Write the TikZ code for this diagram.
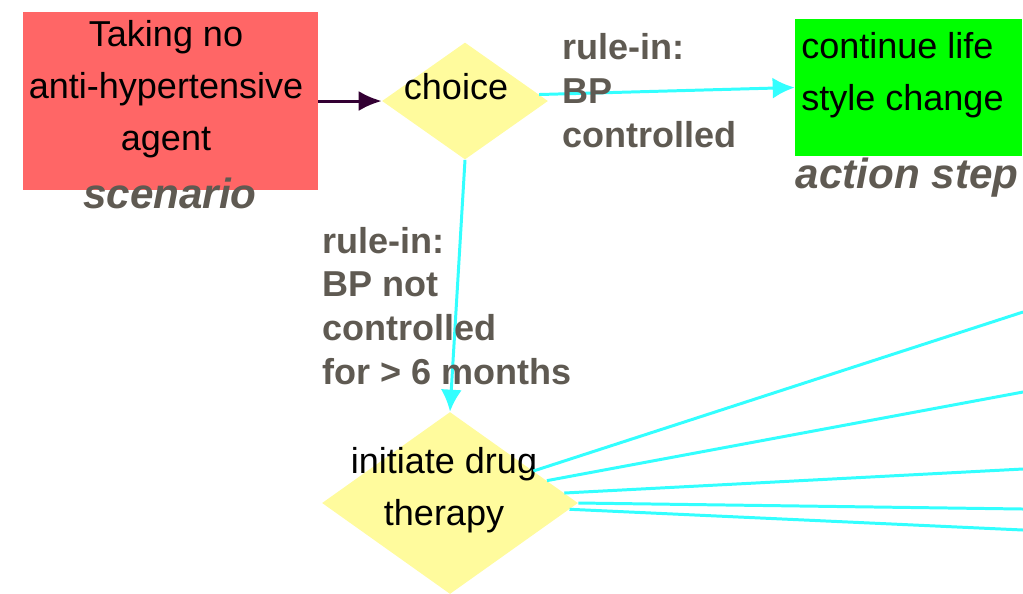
\documentclass[tikz,border=0pt]{standalone}
\usepackage{fontspec}
\setmainfont{Liberation Sans}
\usetikzlibrary{shapes.geometric,arrows.meta}
\definecolor{scenred}{HTML}{FF6666}
\definecolor{actgreen}{HTML}{00FF00}
\definecolor{choiceyellow}{HTML}{FFFB9D}
\definecolor{linkcyan}{HTML}{33FFFF}
\definecolor{linkdark}{HTML}{330033}
\definecolor{labelgrey}{HTML}{5F5A52}

\begin{document}
\begin{tikzpicture}[x=0.02cm, y=-0.02cm,
		boxtext/.style={inner sep=0pt, font=\fontsize{20.5}{29.5}\selectfont, align=center},
		ruletext/.style={inner sep=0pt, font=\fontsize{20.5}{25}\selectfont\bfseries, text=labelgrey, align=left, anchor=west},
		kindtext/.style={inner sep=0pt, font=\fontsize{24}{28}\selectfont\bfseries\itshape, text=labelgrey},
		decision/.style={diamond, fill=choiceyellow, inner sep=0pt},
		cyanlink/.style={linkcyan, line width=1.7pt},
		cyantip/.style={-{Latex[length=0.44cm,width=0.42cm]}}
	]
			%%%%% START %%%%%
			\useasboundingbox (0, 0) rectangle (1023, 593);
			
			% scenario
			\node[fill=scenred, minimum width=5.9cm, minimum height=3.56cm, inner sep=0pt] (scen) at (170.5, 101) {};
			\node[boxtext] (scentext) at (166, 89) {Taking no\\anti-hypertensive\\agent};
			\node[kindtext] (scenlabel) at (170, 193) {scenario};
			
			% choice
			\node[decision, minimum width=3.32cm, minimum height=2.34cm] (choice) at (465, 101) {};
			\node[boxtext] (choicetext) at (456, 87) {choice};
			
			% action step
			\node[fill=actgreen, minimum width=4.54cm, minimum height=2.74cm, inner sep=0pt] (life) at (908.5, 87.5) {};
			\node[boxtext, align=left, anchor=west] (lifetext) at (801, 75) {continue life\\style change};
			\node[kindtext] (lifelabel) at (907, 178) {action step};
			
			% drug therapy
			\node[decision, minimum width=5.12cm, minimum height=3.64cm] (drug) at (450, 503) {};
			\node[boxtext] (drugtext) at (444, 490) {initiate drug\\therapy};
			
			% links
			\draw[linkdark, line width=1.7pt, -{Latex[length=0.46cm,width=0.4cm]}] (scen.east) -- (choice.west);
			\draw[cyanlink, cyantip] (choice.5) -- (life.west);
			\draw[cyanlink, cyantip] (choice.south) -- (drug.north);
			
			\node[ruletext] (rulectrl) at (562, 91) {rule-in:\\BP\\controlled};
			\node[ruletext] (rulenot) at (322, 306) {rule-in:\\BP not\\controlled\\for > 6 months};
			
			% links leaving the picture
			\coordinate (out1) at (1023, 312);
			\coordinate (out2) at (1023, 392);
			\coordinate (out3) at (1023, 469);
			\coordinate (out4) at (1023, 509);
			\coordinate (out5) at (1023, 530);
			\draw[cyanlink] (drug.21) -- (out1);
			\draw[cyanlink] (drug.13) -- (out2);
			\draw[cyanlink] (drug.5) -- (out3);
			\draw[cyanlink] (drug.east) -- (out4);
			\draw[cyanlink] (drug.-3) -- (out5);
			
			%%%%% END %%%%%
\end{tikzpicture}
\end{document}
